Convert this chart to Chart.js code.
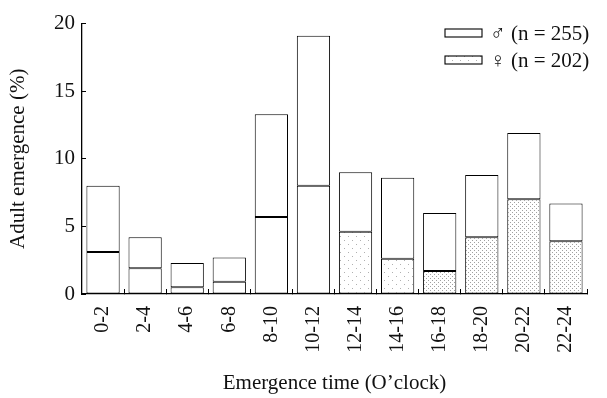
<!DOCTYPE html>
<html>
<head>
<meta charset="utf-8">
<script src="https://cdn.jsdelivr.net/npm/chart.js@4.4.0/dist/chart.umd.min.js"></script>
<style>
  body { margin: 0; background: #fff; }
  #wrap { width: 607px; height: 398px; }
</style>
</head>
<body>
<div id="wrap"><canvas id="emergence" width="607" height="398"></canvas></div>
<script>
// Adult emergence by 2-hour window, female at the bottom, male stacked on top
const categories = ["0-2", "2-4", "4-6", "6-8", "8-10", "10-12", "12-14", "14-16", "16-18", "18-20", "20-22", "22-24"];
const femaleValues = [3.1, 1.9, 0.5, 0.9, 5.7, 8.0, 4.6, 2.6, 1.7, 4.2, 7.0, 3.9];
const maleValues = [4.9, 2.3, 1.8, 1.8, 7.6, 11.1, 4.4, 6.0, 4.3, 4.6, 4.9, 2.8];
const yTicks = [0, 5, 10, 15, 20];
const maleLabel = "\u2642 (n = 255)";
const femaleLabel = "\u2640 (n = 202)";

const serif = "'Liberation Serif', 'Times New Roman', serif";

// stipple patterns for the female part
function stipple(step, color) {
    const c = document.createElement("canvas");
    c.width = step * 2;
    c.height = step * 2;
    const g = c.getContext("2d");
    g.fillStyle = "#fff";
    g.fillRect(0, 0, c.width, c.height);
    g.fillStyle = color;
    g.fillRect(0, 0, 1, 1);
    g.fillRect(step, step, 1, 1);
    return g.createPattern(c, "repeat");
}
const sparse = stipple(4, "#b0b0b0");
const dense = stipple(2, "#a0a0a0");
const femaleFill = ["#fff", "#fff", "#fff", "#fff", "#fff", "#fff", sparse, sparse, dense, dense, dense, dense];

// little legend in the upper right corner
const cornerLegend = {
    id: "cornerLegend",
    afterDraw(chart) {
        const ctx = chart.ctx;
        const rows = [
            { text: maleLabel, fill: "#fff" },
            { text: femaleLabel, fill: sparse }
        ];
        ctx.save();
        ctx.font = "21px " + serif;
        ctx.textBaseline = "middle";
        rows.forEach((r, i) => {
            const y = 29 + i * 27;
            ctx.fillStyle = r.fill;
            ctx.fillRect(445, y, 37, 8);
            ctx.strokeStyle = "#000";
            ctx.lineWidth = 1.1;
            ctx.strokeRect(445, y, 37, 8);
            ctx.fillStyle = "#111";
            ctx.fillText(r.text, 490, y + 5);
        });
        ctx.restore();
    }
};

new Chart(document.getElementById("emergence"), {
    type: "bar",
    data: {
        labels: categories,
        datasets: [
            {
                label: femaleLabel,
                data: femaleValues,
                backgroundColor: femaleFill,
                borderColor: "#000",
                borderWidth: 1,
                borderSkipped: false,
                barPercentage: 0.79,
                categoryPercentage: 1
            },
            {
                label: maleLabel,
                data: maleValues,
                backgroundColor: "#fff",
                borderColor: "#000",
                borderWidth: 1,
                borderSkipped: false,
                barPercentage: 0.79,
                categoryPercentage: 1
            }
        ]
    },
    options: {
        responsive: false,
        animation: false,
        layout: { padding: { top: 14, right: 1, left: 0, bottom: 0 } },
        plugins: {
            legend: { display: false },
            tooltip: { enabled: false }
        },
        scales: {
            x: {
                stacked: true,
                afterFit: s => { s.height = 104; },
                border: { color: "#000", width: 1.3 },
                grid: { display: true, drawOnChartArea: false, drawTicks: true, tickLength: -5, color: "#000" },
                ticks: {
                    color: "#111",
                    font: { family: serif, size: 20 },
                    minRotation: 90,
                    maxRotation: 90,
                    padding: 17
                },
                title: {
                    display: true,
                    text: "Emergence time (O\u2019clock)",
                    color: "#111",
                    font: { family: serif, size: 21 },
                    padding: { top: 0, bottom: 2 }
                }
            },
            y: {
                stacked: true,
                min: 0,
                max: 20,
                afterFit: s => { s.width = 82; },
                afterBuildTicks: s => { s.ticks = yTicks.map(v => ({ value: v })); },
                border: { color: "#000", width: 1.3 },
                grid: { display: true, drawOnChartArea: false, drawTicks: true, tickLength: -4, color: "#000" },
                ticks: {
                    color: "#111",
                    font: { family: serif, size: 21 },
                    padding: 11
                },
                title: {
                    display: true,
                    text: "Adult emergence (%)",
                    color: "#111",
                    font: { family: serif, size: 21 },
                    padding: { top: 6, bottom: 0 }
                }
            }
        }
    },
    plugins: [cornerLegend]
});
</script>
</body>
</html>
